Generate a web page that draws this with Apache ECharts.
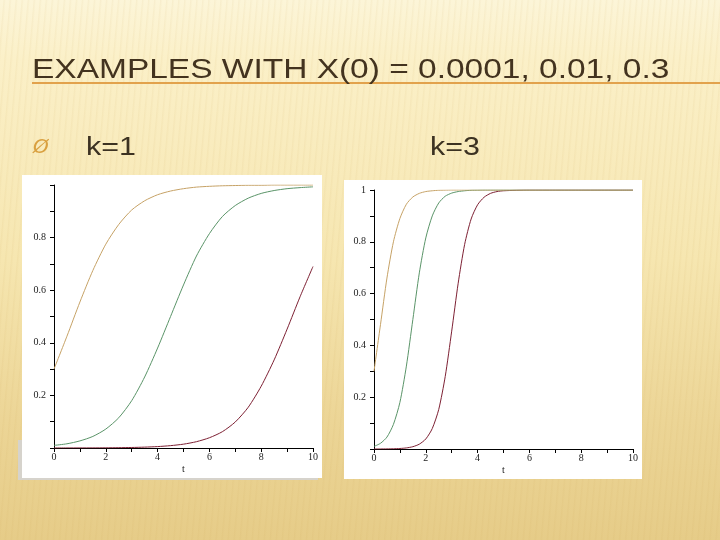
<!DOCTYPE html>
<html>
<head>
<meta charset="utf-8">
<script src="https://cdn.jsdelivr.net/npm/echarts@6/dist/echarts.min.js"></script>
<style>
html,body{margin:0;padding:0;}
body{width:720px;height:540px;overflow:hidden;
background:
 repeating-linear-gradient(95deg, rgba(255,255,255,0.0) 0px, rgba(255,255,255,0.0) 3px, rgba(200,160,80,0.08) 4px, rgba(255,255,255,0.0) 6px),
 linear-gradient(180deg,#fcf5d8 0px,#fbf0c8 60px,#f6e6b0 260px,#ecd596 420px,#e6cc88 540px);}
#c{width:720px;height:540px;}
</style>
</head>
<body>
<div id="c"></div>
<script>
// ---- data ----
const titleText = "EXAMPLES WITH X(0) = 0.0001, 0.01, 0.3";
const leftLabel = "k=1";
const rightLabel = "k=3";
const xTicks = [0, 2, 4, 6, 8, 10];
const yTicks = [0.2, 0.4, 0.6, 0.8, 1];

// k = 1
const tK1 = [0,0.5,1,1.5,2,2.5,3,3.5,4,4.5,5,5.5,6,6.5,7,7.5,8,8.5,9,9.5,10];
const k1Orange = [0.30,0.425,0.555,0.675,0.775,0.85,0.905,0.94,0.963,0.977,0.986,0.992,0.995,0.997,0.998,0.999,0.999,1,1,1,1];
const k1Green  = [0.01,0.016,0.027,0.044,0.072,0.115,0.18,0.27,0.38,0.50,0.62,0.73,0.815,0.88,0.922,0.95,0.968,0.979,0.986,0.99,0.993];
const k1Red    = [0.0001,0.0002,0.0003,0.0004,0.0007,0.0012,0.002,0.0033,0.0054,0.009,0.0146,0.024,0.039,0.062,0.099,0.155,0.235,0.335,0.452,0.575,0.69];

// k = 3
const tK3 = [0,0.25,0.5,0.75,1,1.25,1.5,1.75,2,2.25,2.5,2.75,3,3.25,3.5,3.75,4,4.25,4.5,4.75,5,6,7,8,9,10];
const k3Orange = [0.30,0.48,0.66,0.80,0.89,0.945,0.973,0.987,0.994,0.997,0.999,0.9995,1,1,1,1,1,1,1,1,1,1,1,1,1,1];
const k3Green  = [0.01,0.022,0.046,0.095,0.18,0.32,0.50,0.68,0.815,0.90,0.95,0.976,0.988,0.994,0.997,0.999,0.9995,1,1,1,1,1,1,1,1,1];
const k3Red    = [0.0001,0.0002,0.0004,0.0009,0.002,0.0042,0.0089,0.0187,0.0388,0.079,0.153,0.28,0.455,0.64,0.79,0.888,0.943,0.972,0.987,0.994,0.997,1,1,1,1,1];

const colOrange = '#c6a266';
const colGreen = '#5a9468';
const colRed = '#7d2033';

function pairs(t, v){ return t.map((x,i)=>[x, v[i]]); }

const chart = echarts.init(document.getElementById('c'), null, {renderer:'canvas'});

function xAxisFor(idx){
  return {
    type:'value', gridIndex: idx, min:0, max:10, interval:2,
    name:'t', nameLocation:'middle', nameGap:16,
    nameTextStyle:{fontFamily:'Liberation Serif', fontSize:10, color:'#222'},
    axisLine:{show:true, onZero:false, lineStyle:{color:'#000', width:1}},
    axisTick:{show:true, length:4, lineStyle:{color:'#000'}},
    minorTick:{show:true, splitNumber:2, length:4, lineStyle:{color:'#000'}},
    splitLine:{show:false},
    axisLabel:{margin:4, fontFamily:'Liberation Serif', fontSize:10, color:'#222',
      formatter: v => xTicks.indexOf(v) >= 0 ? String(v) : ''}
  };
}
function yAxisFor(idx, showOne){
  return {
    type:'value', gridIndex: idx, min:0, max:1, interval:0.2,
    axisLine:{show:true, onZero:false, lineStyle:{color:'#000', width:1}},
    axisTick:{show:true, length:4, lineStyle:{color:'#000'}},
    minorTick:{show:true, splitNumber:2, length:4, lineStyle:{color:'#000'}},
    splitLine:{show:false},
    axisLabel:{margin:8, fontFamily:'Liberation Serif', fontSize:10, color:'#222',
      formatter: v => {
        const r = Math.round(v*10)/10;
        if (r === 0) return '';
        if (r === 1) return showOne ? '1' : '';
        return yTicks.indexOf(r) >= 0 ? r.toFixed(1) : '';
      }}
  };
}
function line(xi, t, v, color){
  return {type:'line', xAxisIndex:xi, yAxisIndex:xi, data:pairs(t, v), showSymbol:false,
    smooth:0.25, lineStyle:{color:color, width:1}, silent:true, z:3};
}

chart.setOption({
  animation:false,
  backgroundColor:'transparent',
  grid:[
    {left:54, top:185, width:259, height:263},
    {left:374, top:190, width:259, height:259}
  ],
  xAxis:[xAxisFor(0), xAxisFor(1)],
  yAxis:[yAxisFor(0,false), yAxisFor(1,true)],
  series:[
    line(0, tK1, k1Red, colRed),
    line(0, tK1, k1Green, colGreen),
    line(0, tK1, k1Orange, colOrange),
    line(1, tK3, k3Red, colRed),
    line(1, tK3, k3Green, colGreen),
    line(1, tK3, k3Orange, colOrange)
  ],
  graphic:[
    {type:'rect', z:-10, shape:{x:18, y:440, width:300, height:40}, style:{fill:'#d6d3cc'}},
    {type:'rect', z:-9, shape:{x:22, y:175, width:300, height:303}, style:{fill:'#ffffff'}},
    {type:'rect', z:-9, shape:{x:344, y:180, width:298, height:299}, style:{fill:'#ffffff'}},
    {type:'line', z:-8, shape:{x1:32, y1:83, x2:720, y2:83}, style:{stroke:'#e2a24c', lineWidth:2}},
    {type:'text', x:32, y:71, scaleX:1.24, style:{text:titleText, font:'27px "Liberation Sans"', fill:'#43331f', verticalAlign:'middle'}},
    {type:'text', x:33, y:148, style:{text:'Ø', font:'italic 20px "DejaVu Sans"', fill:'#d9a040', verticalAlign:'middle'}},
    {type:'text', x:86, y:148, scaleX:1.17, style:{text:leftLabel, font:'26px "Liberation Sans"', fill:'#3c3222', verticalAlign:'middle'}},
    {type:'text', x:430, y:148, scaleX:1.17, style:{text:rightLabel, font:'26px "Liberation Sans"', fill:'#3c3222', verticalAlign:'middle'}}
  ]
});
</script>
</body>
</html>
